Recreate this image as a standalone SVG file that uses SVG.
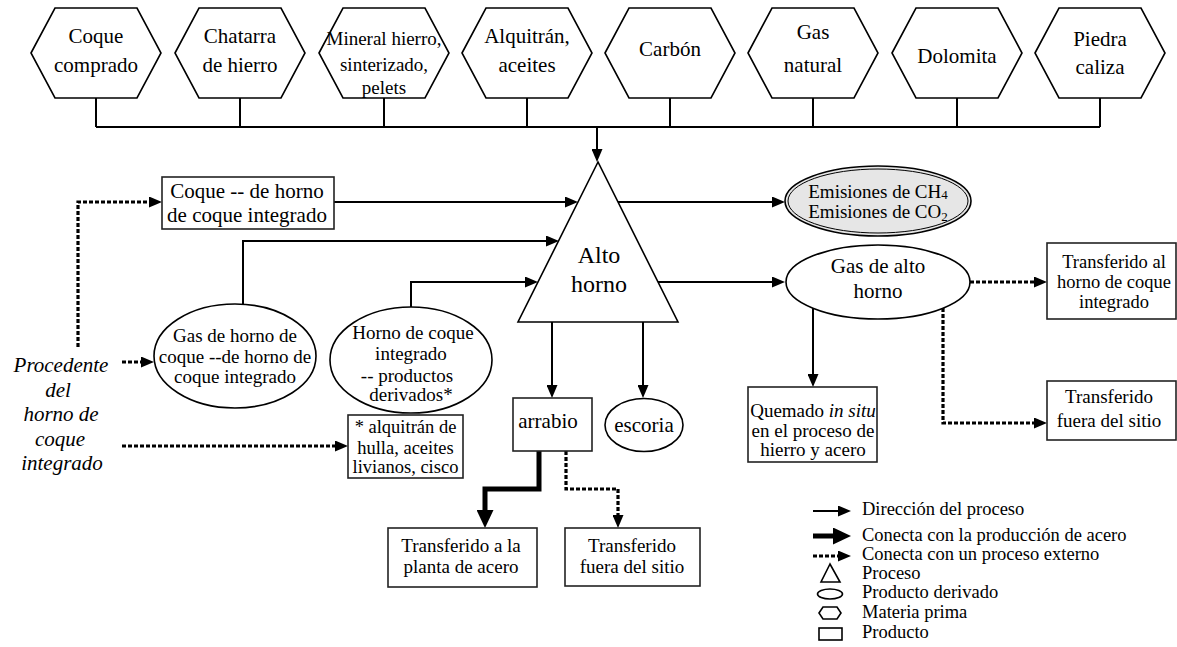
<svg xmlns="http://www.w3.org/2000/svg" xmlns:xlink="http://www.w3.org/1999/xlink" width="1177" height="647" viewBox="0 0 1177 647">
  <style>
    .t { font-family: "Liberation Serif", "Times New Roman", serif; font-size: 21px; text-anchor: middle; fill: #000; }
    .s19 { font-size: 19px; }
    .s18 { font-size: 18.5px; }
    .big { font-size: 24px; }
    .it { font-style: italic; }
    .lg { font-family: "Liberation Serif", "Times New Roman", serif; font-size: 18.5px; fill: #000; }
    .shape { fill: #fff; stroke: #000; stroke-width: 1.6; }
    .box { fill: #fff; stroke: #222; stroke-width: 1.6; }
    .ln { fill: none; stroke: #000; stroke-width: 2; }
    .thick { fill: none; stroke: #000; stroke-width: 5; }
    .dot { fill: none; stroke: #000; stroke-width: 3.2; stroke-dasharray: 4 2; }
  </style>
  <defs>
    <marker id="ah" viewBox="0 0 13 11" refX="2" refY="5.5" markerWidth="13" markerHeight="11" markerUnits="userSpaceOnUse" orient="auto">
      <path d="M0,0 L13,5.5 L0,11 z" fill="#000"/>
    </marker>
    <marker id="ahT" viewBox="0 0 18 17" refX="2" refY="8.5" markerWidth="18" markerHeight="17" markerUnits="userSpaceOnUse" orient="auto">
      <path d="M0,0 L18,8.5 L0,17 z" fill="#000"/>
    </marker>
    <polygon id="hex" points="-65,53 -41,8 41,8 65,53 41,98 -41,98"/>
  </defs>

  <!-- raw materials (hexagons) -->
  <g id="mp-coque-comprado" transform="translate(96,0)">
    <use xlink:href="#hex" class="shape"/>
    <text class="t" x="0" y="43">Coque</text>
    <text class="t" x="0" y="72">comprado</text>
  </g>
  <g id="mp-chatarra" transform="translate(240,0)">
    <use xlink:href="#hex" class="shape"/>
    <text class="t" x="0" y="43">Chatarra</text>
    <text class="t" x="0" y="72">de hierro</text>
  </g>
  <g id="mp-mineral" transform="translate(384,0)">
    <use xlink:href="#hex" class="shape"/>
    <text class="t s19" x="0" y="45">Mineral hierro,</text>
    <text class="t s19" x="0" y="71">sinterizado,</text>
    <text class="t s19" x="0" y="94">pelets</text>
  </g>
  <g id="mp-alquitran" transform="translate(527,0)">
    <use xlink:href="#hex" class="shape"/>
    <text class="t" x="0" y="43">Alquitrán,</text>
    <text class="t" x="0" y="72">aceites</text>
  </g>
  <g id="mp-carbon" transform="translate(670,0)">
    <use xlink:href="#hex" class="shape"/>
    <text class="t" x="0" y="56">Carbón</text>
  </g>
  <g id="mp-gas-natural" transform="translate(813,0)">
    <use xlink:href="#hex" class="shape"/>
    <text class="t" x="0" y="39">Gas</text>
    <text class="t" x="0" y="72">natural</text>
  </g>
  <g id="mp-dolomita" transform="translate(957,0)">
    <use xlink:href="#hex" class="shape"/>
    <text class="t" x="0" y="63">Dolomita</text>
  </g>
  <g id="mp-piedra-caliza" transform="translate(1100,0)">
    <use xlink:href="#hex" class="shape"/>
    <text class="t" x="0" y="46">Piedra</text>
    <text class="t" x="0" y="74">caliza</text>
  </g>

  <!-- connectors -->
  <g id="connectors">
    <path class="ln" d="M96,98 V127 M240,98 V127 M384,98 V127 M527,98 V127 M670,98 V127 M813,98 V127 M957,98 V127 M1100,98 V127 M96,127 H1100"/>
    <path class="ln" d="M597,127 V151" marker-end="url(#ah)"/>
    <path class="ln" d="M334,202 H567" marker-end="url(#ah)"/>
    <path class="ln" d="M243,305 V241 H548" marker-end="url(#ah)"/>
    <path class="ln" d="M411,307 V282 H527" marker-end="url(#ah)"/>
    <path class="ln" d="M618,202 H774" marker-end="url(#ah)"/>
    <path class="ln" d="M658,282 H774" marker-end="url(#ah)"/>
    <path class="ln" d="M552,322 V387" marker-end="url(#ah)"/>
    <path class="ln" d="M643,322 V387" marker-end="url(#ah)"/>
    <path class="ln" d="M813,308 V376" marker-end="url(#ah)"/>
    <path class="dot" d="M970,282 H1036" marker-end="url(#ah)"/>
    <path class="dot" d="M943,308 V423 H1036" marker-end="url(#ah)"/>
    <path class="thick" d="M539,451 V489 H485 V512" marker-end="url(#ahT)"/>
    <path class="dot" d="M566,451 V489 H618 V517" marker-end="url(#ah)"/>
    <path class="dot" d="M78,347 V202 H151" marker-end="url(#ah)"/>
    <path class="dot" d="M122,362 H143" marker-end="url(#ah)"/>
    <path class="dot" d="M122,446 H337" marker-end="url(#ah)"/>
  </g>

  <!-- process -->
  <g id="alto-horno">
    <polygon class="shape" points="598,162 518,322 678,322"/>
    <text class="t big" x="599" y="263">Alto</text>
    <text class="t big" x="599" y="292">horno</text>
  </g>

  <!-- products and by-products -->
  <g id="coque-integrado">
    <rect class="box" x="162" y="177" width="172" height="52"/>
    <text class="t" x="247" y="198">Coque -- de horno</text>
    <text class="t" x="247" y="222">de coque integrado</text>
  </g>
  <g id="gas-horno-coque">
    <ellipse class="shape" cx="235" cy="356" rx="81" ry="52"/>
    <text class="t s19" x="235" y="342">Gas de horno de</text>
    <text class="t s19" x="235" y="363">coque --de horno de</text>
    <text class="t s19" x="235" y="383">coque integrado</text>
  </g>
  <g id="productos-derivados">
    <ellipse class="shape" cx="411" cy="360" rx="81" ry="53"/>
    <text class="t s19" x="413" y="339">Horno de coque</text>
    <text class="t s19" x="411" y="360">integrado</text>
    <text class="t s19" x="407" y="382">-- productos</text>
    <text class="t s19" x="411" y="401">derivados*</text>
  </g>
  <g id="nota-derivados">
    <rect class="box" x="348" y="415" width="115" height="63" stroke-width="2"/>
    <text class="t s18" x="405.5" y="433">* alquitrán de</text>
    <text class="t s18" x="405.5" y="454">hulla, aceites</text>
    <text class="t s18" x="405.5" y="473">livianos, cisco</text>
  </g>
  <g id="procedente">
    <text class="t it" x="61" y="372">Procedente</text>
    <text class="t it" x="58" y="397">del</text>
    <text class="t it" x="61" y="421">horno de</text>
    <text class="t it" x="60" y="446">coque</text>
    <text class="t it" x="62" y="470">integrado</text>
  </g>
  <g id="emisiones">
    <ellipse cx="878" cy="201" rx="93" ry="35" fill="#e6e6e6" stroke="#000" stroke-width="1.6"/>
    <ellipse cx="878" cy="201" rx="90" ry="32" fill="none" stroke="#000" stroke-width="1"/>
    <text class="t s19" x="878" y="198">Emisiones de CH<tspan font-size="13" dy="1">4</tspan></text>
    <text class="t s19" x="878" y="218">Emisiones de CO<tspan font-size="13" dy="3">2</tspan></text>
  </g>
  <g id="gas-alto-horno">
    <ellipse class="shape" cx="878" cy="282" rx="92" ry="37"/>
    <text class="t" x="878" y="273">Gas de alto</text>
    <text class="t" x="878" y="298">horno</text>
  </g>
  <g id="transferido-horno-coque">
    <rect class="box" x="1047" y="243" width="129" height="76"/>
    <text class="t s18" x="1114" y="268">Transferido al</text>
    <text class="t s18" x="1114" y="288">horno de coque</text>
    <text class="t s18" x="1114" y="308">integrado</text>
  </g>
  <g id="transferido-fuera-gas">
    <rect class="box" x="1047" y="381" width="129" height="59"/>
    <text class="t s19" x="1109" y="403">Transferido</text>
    <text class="t s19" x="1109" y="427">fuera del sitio</text>
  </g>
  <g id="quemado-in-situ">
    <rect class="box" x="748" y="387" width="129" height="75"/>
    <text class="t s19" x="813" y="417">Quemado <tspan class="it">in situ</tspan></text>
    <text class="t s19" x="813" y="437">en el proceso de</text>
    <text class="t s19" x="813" y="456">hierro y acero</text>
  </g>
  <g id="arrabio">
    <rect class="box" x="513" y="398" width="79" height="53"/>
    <text class="t" x="548" y="428">arrabio</text>
  </g>
  <g id="escoria">
    <ellipse class="shape" cx="644" cy="425" rx="39" ry="26.5"/>
    <text class="t" x="644" y="432">escoria</text>
  </g>
  <g id="transferido-planta-acero">
    <rect class="box" x="388" y="528" width="149" height="59"/>
    <text class="t s19" x="461" y="552">Transferido a la</text>
    <text class="t s19" x="461" y="573">planta de acero</text>
  </g>
  <g id="transferido-fuera-arrabio">
    <rect class="box" x="565" y="528" width="135" height="58"/>
    <text class="t s19" x="632" y="552">Transferido</text>
    <text class="t s19" x="632" y="573">fuera del sitio</text>
  </g>

  <!-- legend -->
  <g id="leyenda">
    <path class="ln" d="M813,511 H840" marker-end="url(#ah)"/>
    <path class="thick" d="M813,536 H835" marker-end="url(#ahT)"/>
    <path class="dot" d="M813,556 H840" marker-end="url(#ah)"/>
    <polygon class="shape" points="830,564 821,582 840,582"/>
    <ellipse class="shape" cx="830" cy="594" rx="12.5" ry="5"/>
    <polygon class="shape" points="819,613 823,607 837,607 841,613 837,619 823,619"/>
    <rect class="shape" x="819" y="628" width="23" height="12"/>
    <text class="lg" x="862" y="515">Dirección del proceso</text>
    <text class="lg" x="862" y="541">Conecta con la producción de acero</text>
    <text class="lg" x="862" y="560">Conecta con un proceso externo</text>
    <text class="lg" x="862" y="579">Proceso</text>
    <text class="lg" x="862" y="598">Producto derivado</text>
    <text class="lg" x="862" y="618">Materia prima</text>
    <text class="lg" x="862" y="638">Producto</text>
  </g>
</svg>
